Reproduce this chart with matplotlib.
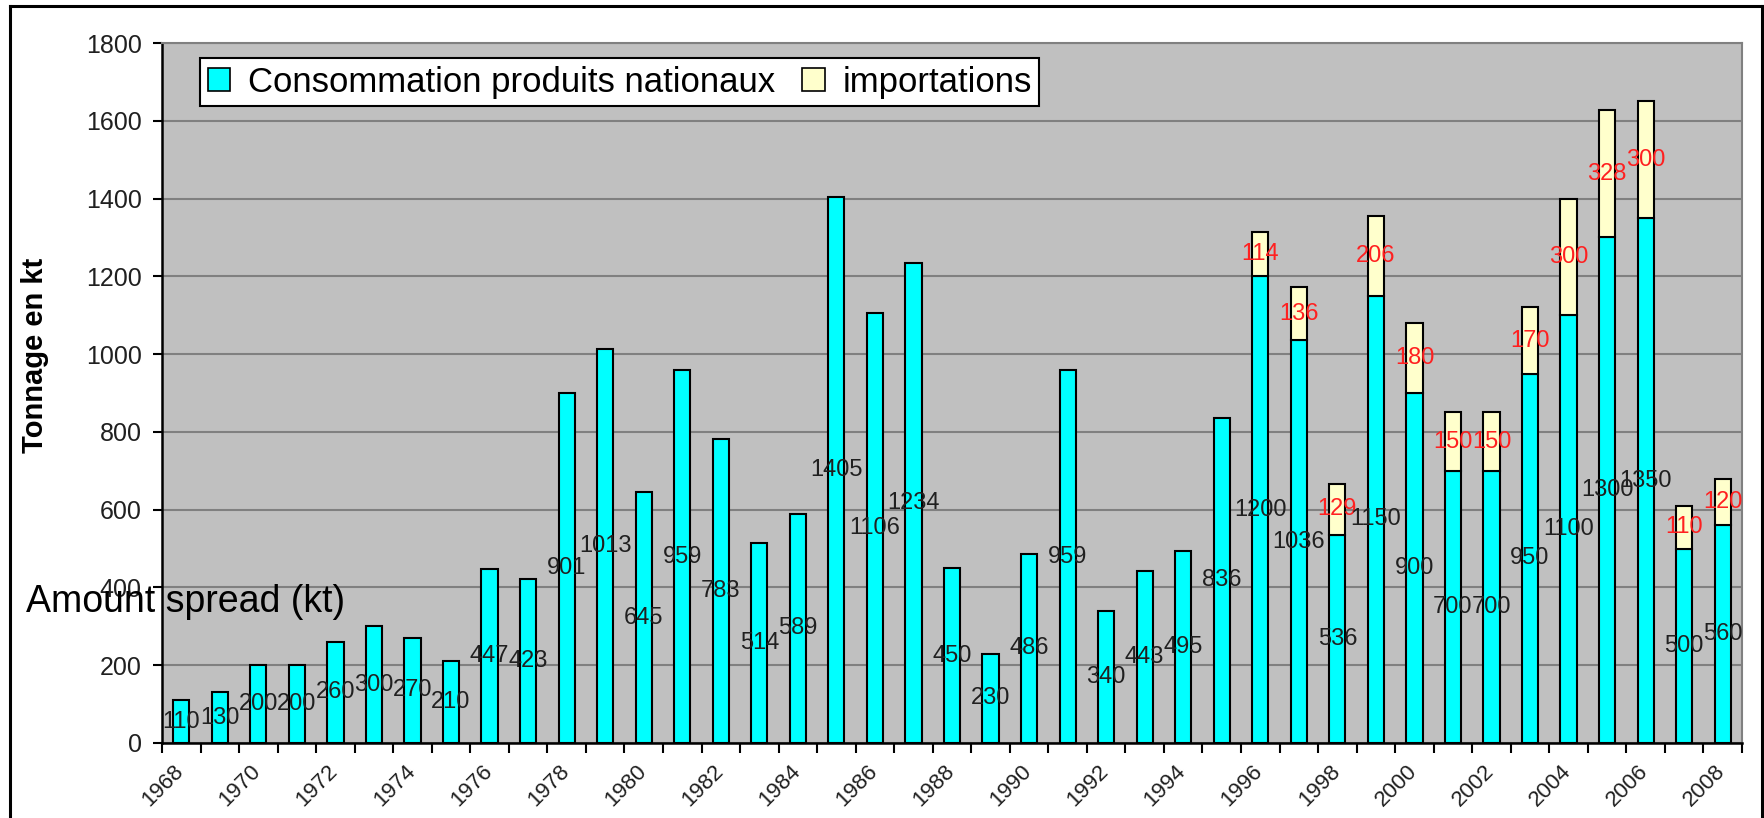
import numpy as np
import matplotlib
matplotlib.use("Agg")
import matplotlib.pyplot as plt
from matplotlib.lines import Line2D
from matplotlib.patches import Patch
from matplotlib.transforms import ScaledTranslation

plt.rcParams['font.family'] = ['Liberation Sans', 'DejaVu Sans']

years = list(range(1968, 2009))
nationaux = [110, 130, 200, 200, 260, 300, 270, 210, 447, 423,
             901, 1013, 645, 959, 783, 514, 589, 1405, 1106, 1234,
             450, 230, 486, 959, 340, 443, 495, 836, 1200, 1036,
             536, 1150, 900, 700, 700, 950, 1100, 1300, 1350, 500,
             560]
importations = [0] * 28 + [114, 136, 129, 206, 180, 150, 150, 170, 300, 328,
                           300, 110, 120]

cyan = '#00FFFF'
beige = '#FFFFCC'

fig = plt.figure(figsize=(17.65, 8.18), dpi=100)
ax = fig.add_axes([162 / 1765, 1 - 743 / 818, 1580 / 1765, 700 / 818])
ax.set_facecolor('#C0C0C0')

x = np.arange(len(years))
nat = np.array(nationaux)
imp = np.array(importations)

ax.bar(x, nat, width=0.42, color=cyan, edgecolor='black', linewidth=1.5, zorder=3)
has_imp = imp > 0
ax.bar(x[has_imp], imp[has_imp], bottom=nat[has_imp], width=0.42, color=beige,
       edgecolor='black', linewidth=1.5, zorder=3)

# value labels, centred in each segment
for i in x:
    ax.text(i, nat[i] / 2, str(nat[i]), ha='center', va='center',
            fontsize=17, color='#202020', zorder=4)
    if imp[i] > 0:
        ax.text(i, nat[i] + imp[i] / 2, str(imp[i]), ha='center', va='center',
                fontsize=17, color='#FF2020', zorder=4)

ax.set_xlim(-0.5, len(years) - 0.5)
ax.set_ylim(0, 1800)
ax.set_yticks(np.arange(0, 1801, 200))
ax.yaxis.grid(True, color='#808080', linewidth=1.5, zorder=1)
ax.set_axisbelow(True)

ax.set_xticks(x[::2])
ax.set_xticklabels([str(y) for y in years[::2]], rotation=45, ha='right',
                   rotation_mode='anchor', fontsize=16, color='#202020')
ax.set_xticks(np.arange(-0.5, len(years), 1), minor=True)
ax.tick_params(axis='x', which='major', length=0, pad=13)
ax.tick_params(axis='x', which='minor', length=7, width=1.5, direction='out')
ax.tick_params(axis='y', length=6.5, width=1.5, pad=8, labelsize=18,
               labelcolor='#202020')
shift = ScaledTranslation(-8 / 100, 0, fig.dpi_scale_trans)
for lab in ax.get_xticklabels():
    lab.set_transform(lab.get_transform() + shift)

for side in ['left', 'bottom']:
    ax.spines[side].set_color('black')
    ax.spines[side].set_linewidth(1.8)
for side in ['top', 'right']:
    ax.spines[side].set_color('#808080')
    ax.spines[side].set_linewidth(1.5)

handles = [Patch(facecolor=cyan, edgecolor='black', linewidth=1.2),
           Patch(facecolor=beige, edgecolor='black', linewidth=1.2)]
leg = ax.legend(handles, ['Consommation produits nationaux', 'importations'],
                ncol=2, loc='upper left', bbox_to_anchor=(38 / 1580, (743 - 58) / 700),
                borderaxespad=0, fontsize=25, frameon=True, fancybox=False,
                handlelength=0.65, handleheight=0.65, handletextpad=0.5,
                columnspacing=0.8, borderpad=0.22)
leg.get_frame().set_edgecolor('black')
leg.get_frame().set_linewidth(1.5)
leg.get_frame().set_facecolor('white')
leg.get_frame().set_alpha(1)
leg.set_zorder(5)

fig.text(35 / 1765, 1 - 355 / 818, 'Tonnage en kt', rotation=90, ha='center',
         va='center', fontsize=21, fontweight='bold')

fig.text(26 / 1765, 1 - 612 / 818, 'Amount spread (kt)', ha='left',
         va='baseline', fontsize=27, color='black')

# outer frame
lw = 2.2
fig.add_artist(Line2D([10 / 1765, 10 / 1765], [0, 1 - 6 / 818], color='black', lw=lw))
fig.add_artist(Line2D([10 / 1765, 1762 / 1765], [1 - 6 / 818, 1 - 6 / 818], color='black', lw=lw))
fig.add_artist(Line2D([1762 / 1765, 1762 / 1765], [0, 1 - 6 / 818], color='black', lw=lw))

fig.savefig('out.png', dpi=100)
